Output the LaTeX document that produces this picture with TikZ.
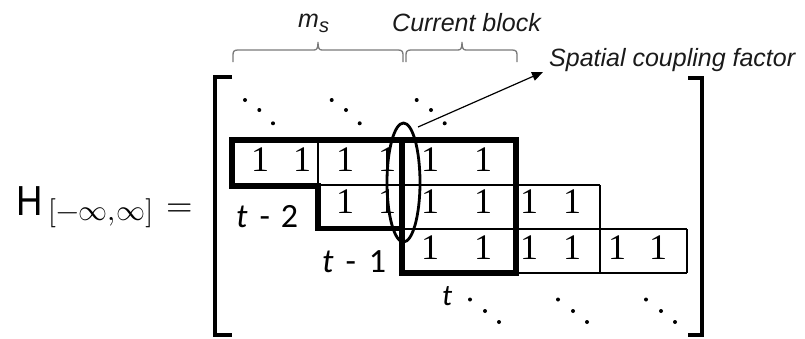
\documentclass[tikz,border=0pt]{standalone}
\usepackage{fontspec}
\usepackage{unicode-math}
\setmathfont{Latin Modern Math}
\setmainfont{Liberation Serif}
\newfontfamily\arialf{Liberation Sans}
\newfontfamily\calf{Carlito}
\usetikzlibrary{arrows.meta,shapes.geometric}
\definecolor{bracegray}{HTML}{7A7A7A}
\definecolor{txt}{HTML}{1A1A1A}
\newcommand{\mybrace}[3]{%
  \draw[bracepath] (#1,62) -- (#1,55) .. controls (#1,51.5) and (#1+1,50) .. (#1+5,50)
    -- (#2-4,50) .. controls (#2-1,50) and (#2,48) .. (#2,42)
    .. controls (#2,48) and (#2+1,50) .. (#2+4,50)
    -- (#3-5,50) .. controls (#3-1,50) and (#3,51.5) .. (#3,55) -- (#3,62);}
\begin{document}
\begin{tikzpicture}[x=1pt,y=-1pt,
  gridline/.style={line width=1.2pt, black},
  thickline/.style={line width=5.5pt, black, line join=miter},
  bracketline/.style={line width=3.2pt, black, line join=miter},
  bracepath/.style={line width=1.3pt, bracegray},
  one/.style={inner sep=0pt, font=\fontsize{36}{42}\selectfont},
  lab/.style={inner sep=0pt, anchor=base west, text=txt, font=\arialf\itshape\fontsize{25}{30}\selectfont},
  tlab/.style={inner sep=0pt, anchor=base west, font=\calf\fontsize{34}{40}\selectfont},
  dotm/.style={circle, fill=black, inner sep=0pt, minimum size=4pt},
]
\useasboundingbox (0,0) rectangle (805,338);

% H label
\node[inner sep=0pt, anchor=base west, font=\arialf\fontsize{42}{48}\selectfont] (hh) at (16,215) {\scalebox{0.87}[1]{H}};
\node[inner sep=0pt, anchor=base west, font=\fontsize{29}{34}\selectfont] (hsub) at (48,220) {$[{-}\infty{,}\infty]$};
\node[inner sep=0pt, anchor=base, font=\fontsize{34}{40}\selectfont] (eq) at (180,216) {$=$};

% brackets
\draw[bracketline] (232,77) -- (215,77) -- (215,335) -- (232,335);
\draw[bracketline] (688,78) -- (702,78) -- (702,335) -- (688,335);

% braces and labels
\mybrace{233}{318}{403}
\mybrace{406}{462}{517}
\node[lab] (ms) at (298,27) {m\raisebox{-5pt}{\fontsize{20}{24}\selectfont s}};
\node[lab] (cb) at (392,31.5) {Current block};
\node[lab] (scf) at (549,66.5) {Spatial coupling factor};

% thin grid lines
\draw[gridline] (318,140) -- (318,186);
\draw[gridline] (318,185) -- (600,185);
\draw[gridline] (402,229) -- (687,229);
\draw[gridline] (600,185) -- (600,273);
\draw[gridline] (687,229) -- (687,273);
\draw[gridline] (516,273) -- (687,273);

% thick staircase
\draw[thickline] (232,140) -- (516,140) -- (516,273) -- (402,273) -- (402,228.5)
  -- (318,228.5) -- (318,186) -- (232,186) -- cycle;
\draw[thickline] (402,140) -- (402,228.5);

% ones
\foreach \x [count=\i] in {260,302,345,387,430,483}
  \node[one] (a\i) at (\x,160) {1};
\foreach \x [count=\i] in {345,387,430,483,529,572}
  \node[one] (b\i) at (\x,202) {1};
\foreach \x [count=\i] in {430,483,529,572,617,658}
  \node[one] (c\i) at (\x,247.5) {1};

% time labels
\node[tlab] (t2) at (236,227) {{\itshape t}\hskip 12pt-\hskip 11pt2};
\node[tlab] (t1) at (322,272) {{\itshape t}\hskip 12pt-\hskip 13pt1};
\node[tlab, font=\calf\fontsize{30}{36}\selectfont] (t0) at (442,305) {\itshape t};

% dots top
\foreach \dx [count=\k] in {0,86.7,171.7} {
  \node[dotm] (tdA\k) at (245+\dx,100) {};
  \node[dotm] (tdB\k) at (259.3+\dx,110) {};
  \node[dotm] (tdC\k) at (273+\dx,123.3) {};
}
% dots bottom
\foreach \dx [count=\k] in {0,88,176} {
  \node[dotm] (bdA\k) at (470+\dx,299.5) {};
  \node[dotm] (bdB\k) at (485+\dx,311) {};
  \node[dotm] (bdC\k) at (499+\dx,322) {};
}

% ellipse and arrow
\node[draw, ellipse, line width=2.8pt, minimum width=33pt, minimum height=119pt, inner sep=0pt] (ell) at (403.5,182.5) {};
\coordinate (astart) at (418,127);
\coordinate (atip) at (543,72);
\draw[line width=1.2pt, -{Triangle[length=11pt,width=9pt]}] (astart) -- (atip);
\end{tikzpicture}
\end{document}
